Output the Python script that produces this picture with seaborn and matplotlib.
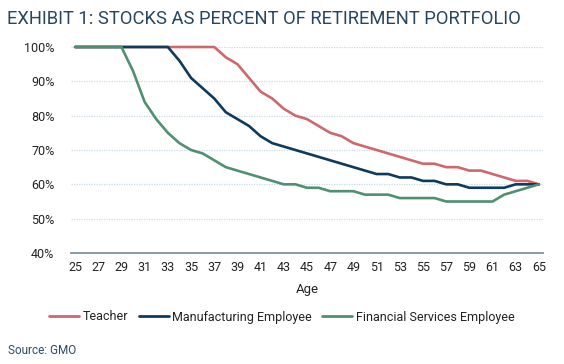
import matplotlib
matplotlib.use("Agg")
import matplotlib.pyplot as plt
import numpy as np
import pandas as pd
import seaborn as sns

ages = list(range(25, 66))

teacher = [100] * 13 + [
    97, 95, 91, 87, 85, 82, 80, 79, 77, 75, 74, 72, 71, 70, 69, 68, 67,
    66, 66, 65, 65, 64, 64, 63, 62, 61, 61, 60]

manufacturing = [100] * 9 + [
    96, 91, 88, 85, 81, 79, 77, 74, 72, 71, 70, 69, 68, 67, 66, 65, 64,
    63, 63, 62, 62, 61, 61, 60, 60, 59, 59, 59, 59, 60, 60, 60]

financial = [100] * 5 + [
    93, 84, 79, 75, 72, 70, 69, 67, 65, 64, 63, 62, 61, 60, 60, 59, 59,
    58, 58, 58, 57, 57, 57, 56, 56, 56, 56, 55, 55, 55, 55, 55, 57, 58,
    59, 60]

series_names = ["Teacher", "Manufacturing Employee", "Financial Services Employee"]
series_colors = ["#d0676e", "#0e3a5c", "#4f8f72"]
y_ticks = [40, 50, 60, 70, 80, 90, 100]

data = pd.DataFrame({
    "Age": ages * 3,
    "value": teacher + manufacturing + financial,
    "series": ([series_names[0]] * len(ages) + [series_names[1]] * len(ages)
               + [series_names[2]] * len(ages)),
})

sns.set_style("white")
plt.rcParams["font.family"] = ["Roboto", "DejaVu Sans"]

text_color = "#222222"
figure = plt.figure(figsize=(5.64, 3.64), dpi=100)
axes = figure.add_axes([71 / 564, 111 / 364, 472 / 564, 206 / 364])

sns.lineplot(data=data, x="Age", y="value", hue="series",
             palette=series_colors, linewidth=1.9, ax=axes, legend=False)
for line in axes.lines:
    line.set_clip_on(False)

axes.set_xlim(24.65, 65.35)
axes.set_ylim(40, 100)
axes.set_xticks(ages[::2])
axes.set_yticks(y_ticks)
axes.set_yticklabels(["{}%".format(v) for v in y_ticks])
axes.tick_params(length=0, labelsize=9, colors=text_color, pad=6)
axes.tick_params(axis="y", pad=12)

for v in y_ticks[1:]:
    axes.axhline(v, color="#c8dbe6", linewidth=0.9, linestyle=(0, (1, 1)),
                 zorder=0)
for side in ["top", "right", "left"]:
    axes.spines[side].set_visible(False)
axes.spines["bottom"].set_color("#7e93a3")
axes.spines["bottom"].set_linewidth(1.3)

axes.set_xlabel("Age", fontsize=9.5, color=text_color, labelpad=6)
axes.set_ylabel("")

handles = [plt.Line2D([], [], color=c, linewidth=2) for c in series_colors]
figure.legend(handles, series_names, loc="center", ncol=3,
              bbox_to_anchor=(0.5, 1 - 317 / 364), frameon=False,
              fontsize=9, handlelength=2.4, handletextpad=0.3,
              columnspacing=0.8, labelcolor=text_color)

figure.text(7 / 564, 1 - 19 / 364,
            "EXHIBIT 1: STOCKS AS PERCENT OF RETIREMENT PORTFOLIO",
            fontsize=13.2, color="#27455f", va="center", ha="left")
figure.text(8 / 564, 1 - 350 / 364, "Source: GMO", fontsize=8.5,
            color="#2b4a66", va="center", ha="left")

plt.savefig("out.png", dpi=100)
